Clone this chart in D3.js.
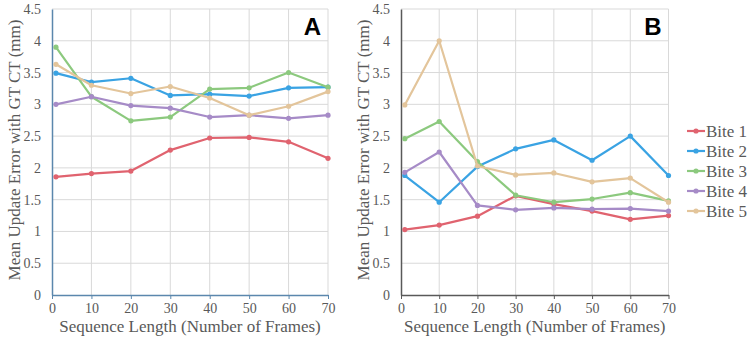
<!DOCTYPE html>
<html>
<head>
<meta charset="utf-8">
<script src="https://cdn.jsdelivr.net/npm/d3@7"></script>
<style>
  body { margin: 0; background: #fff; }
  text { font-family: "Liberation Serif", serif; fill: #595959; }
</style>
</head>
<body>
<svg id="chart"></svg>
<script>
// SVG size params
var width = 748;
var height = 340;

// Data
var frames = [1, 10, 20, 30, 40, 50, 60, 70];
var seriesNames = ["Bite 1", "Bite 2", "Bite 3", "Bite 4", "Bite 5"];
var colors = ["#e0636f", "#3aa3e3", "#8cc97e", "#a68bc7", "#e3c59b"];
var yTicks = [0, 0.5, 1, 1.5, 2, 2.5, 3, 3.5, 4, 4.5];
var xTicks = [0, 10, 20, 30, 40, 50, 60, 70];

var bite1A = [1.86, 1.91, 1.95, 2.28, 2.47, 2.48, 2.41, 2.15];
var bite2A = [3.49, 3.35, 3.41, 3.14, 3.16, 3.13, 3.26, 3.27];
var bite3A = [3.90, 3.12, 2.74, 2.80, 3.24, 3.26, 3.50, 3.27];
var bite4A = [3.00, 3.12, 2.98, 2.94, 2.80, 2.83, 2.78, 2.83];
var bite5A = [3.63, 3.30, 3.17, 3.28, 3.10, 2.83, 2.97, 3.20];

var bite1B = [1.03, 1.10, 1.24, 1.56, 1.43, 1.32, 1.19, 1.25];
var bite2B = [1.88, 1.46, 2.02, 2.30, 2.44, 2.12, 2.50, 1.88];
var bite3B = [2.46, 2.73, 2.10, 1.57, 1.46, 1.51, 1.61, 1.48];
var bite4B = [1.93, 2.25, 1.41, 1.34, 1.37, 1.35, 1.36, 1.32];
var bite5B = [2.99, 4.00, 2.03, 1.89, 1.92, 1.78, 1.84, 1.46];

var panels = [
  {label: "A", left: 52, right: 328, axisColor: "#5b87ad", series: [bite1A, bite2A, bite3A, bite4A, bite5A]},
  {label: "B", left: 401, right: 668.5, axisColor: "#595959", series: [bite1B, bite2B, bite3B, bite4B, bite5B]}
];

// plot area vertical extent
var plotTop = 9, plotBottom = 295;

var svg = d3.select("#chart")
  .attr("width", width)
  .attr("height", height);

var y = d3.scaleLinear().domain([0, 4.5]).range([plotBottom, plotTop]);

panels.forEach(function(p) {
  var x = d3.scaleLinear().domain([0, 70]).range([p.left, p.right]);
  var g = svg.append("g");

  // Gridlines
  g.selectAll(".hgrid")
    .data(yTicks.slice(1))
    .enter().append("line")
      .attr("x1", p.left).attr("x2", p.right)
      .attr("y1", d => y(d)).attr("y2", d => y(d))
      .attr("stroke", "#d9d9d9").attr("stroke-width", 1);
  g.selectAll(".vgrid")
    .data(xTicks.slice(1))
    .enter().append("line")
      .attr("x1", d => x(d)).attr("x2", d => x(d))
      .attr("y1", plotTop).attr("y2", plotBottom)
      .attr("stroke", "#d9d9d9").attr("stroke-width", 1);

  // Axes
  var xAxis = g.append("g")
    .attr("transform", "translate(0," + plotBottom + ")")
    .call(d3.axisBottom(x).tickValues(xTicks).tickSize(4).tickSizeOuter(0).tickPadding(4));
  xAxis.select(".domain").attr("stroke", p.axisColor).attr("stroke-width", 1.5);
  xAxis.selectAll(".tick line").attr("stroke", p.axisColor);
  xAxis.selectAll("text").style("font-size", "14px").attr("fill", "#595959");

  var yAxis = g.append("g")
    .attr("transform", "translate(" + p.left + ",0)")
    .call(d3.axisLeft(y).tickValues(yTicks).tickSize(0).tickPadding(11).tickFormat(d3.format("")));
  yAxis.select(".domain").attr("stroke", p.axisColor).attr("stroke-width", 1.5);
  yAxis.selectAll("text").style("font-size", "14px").attr("fill", "#595959");

  // Lines and markers
  var line = d3.line().x((d, i) => x(frames[i])).y(d => y(d));
  p.series.forEach(function(vals, s) {
    g.append("path")
      .datum(vals)
      .attr("d", line)
      .attr("fill", "none")
      .attr("stroke", colors[s])
      .attr("stroke-width", 2.2)
      .attr("stroke-linejoin", "round");
    g.selectAll(".pt" + s)
      .data(vals)
      .enter().append("circle")
        .attr("cx", (d, i) => x(frames[i]))
        .attr("cy", d => y(d))
        .attr("r", 2.6)
        .attr("fill", colors[s]);
  });

  // Axis titles
  g.append("text")
    .attr("x", (p.left + p.right) / 2)
    .attr("y", 332)
    .attr("text-anchor", "middle")
    .style("font-size", "17px")
    .text("Sequence Length (Number of Frames)");
  g.append("text")
    .attr("transform", "translate(" + (p.left - 32) + "," + 150 + ") rotate(-90)")
    .attr("text-anchor", "middle")
    .style("font-size", "17px")
    .text("Mean Update Error with GT CT (mm)");

  // Panel label
  g.append("text")
    .attr("x", p.right - 7)
    .attr("y", 35)
    .attr("text-anchor", "end")
    .style("font-family", "'Liberation Sans', Arial, sans-serif")
    .style("font-weight", "bold")
    .style("font-size", "24px")
    .style("fill", "#000")
    .text(p.label);
});

// Legend
var legend = svg.append("g").attr("id", "legend");
var items = legend.selectAll("g")
  .data(seriesNames)
  .enter().append("g")
    .attr("transform", (d, i) => "translate(687," + (131 + i * 20) + ")");
items.append("line")
  .attr("x1", 0).attr("x2", 18)
  .attr("stroke", (d, i) => colors[i])
  .attr("stroke-width", 2.2);
items.append("circle")
  .attr("cx", 9).attr("r", 2.6)
  .attr("fill", (d, i) => colors[i]);
items.append("text")
  .attr("x", 19)
  .attr("dy", "0.35em")
  .style("font-size", "17px")
  .text(d => d);
</script>
</body>
</html>
